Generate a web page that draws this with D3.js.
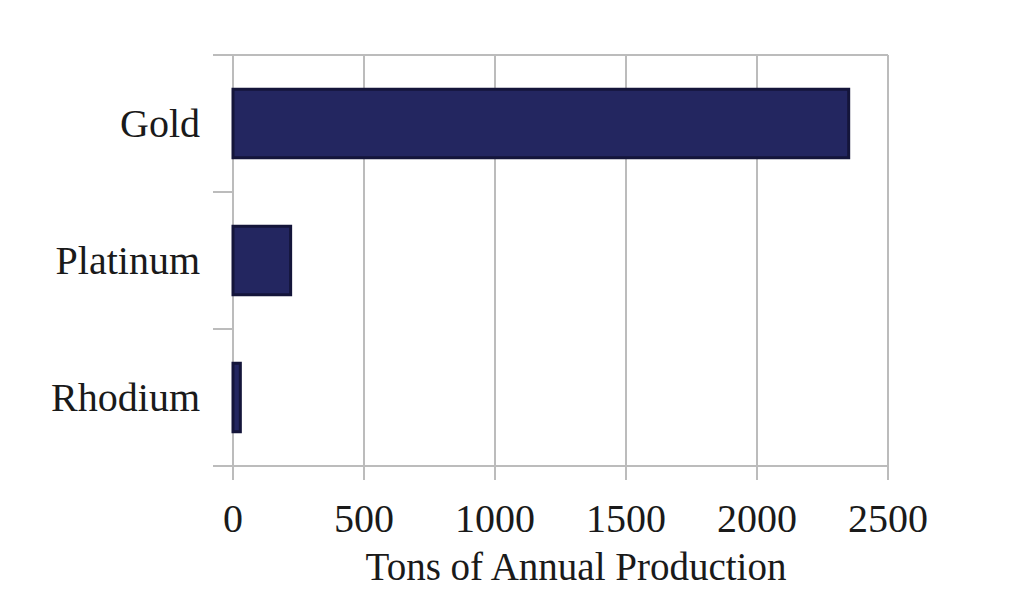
<!DOCTYPE html>
<html>
<head>
<meta charset="utf-8">
<script src="https://cdn.jsdelivr.net/npm/d3@7"></script>
<style>
  body { margin: 0; background: #fff; }
  text { font-family: "Liberation Serif", "DejaVu Serif", serif; fill: #1a1a1a; }
</style>
</head>
<body>
<script>
var metals = ["Gold", "Platinum", "Rhodium"];
var tons = [2350, 220, 28];
var xTicks = [0, 500, 1000, 1500, 2000, 2500];
var xTitle = "Tons of Annual Production";

var width = 1024, height = 605;
var plotLeft = 233, plotRight = 888, plotTop = 55, plotBottom = 466;
var gridColor = "#bcbcbc";

var svg = d3.select("body").append("svg")
  .attr("width", width)
  .attr("height", height);

var x = d3.scaleLinear().domain([0, 2500]).range([plotLeft, plotRight]);
var y = d3.scaleBand().domain(metals).range([plotTop, plotBottom])
  .paddingInner(0.5).paddingOuter(0.25);

// vertical grid lines, running past the bottom as ticks
svg.append("g").selectAll("line")
  .data(xTicks)
  .join("line")
    .attr("x1", d => x(d)).attr("x2", d => x(d))
    .attr("y1", plotTop).attr("y2", plotBottom + 14)
    .attr("stroke", gridColor)
    .attr("stroke-width", 2);

// category boundaries on the left (top and bottom ones span the plot)
var bounds = d3.range(metals.length + 1).map(i => plotTop + i * y.step());
svg.append("g").selectAll("line")
  .data(bounds)
  .join("line")
    .attr("x1", plotLeft - 20)
    .attr("x2", (d, i) => (i === 0 || i === metals.length) ? plotRight : plotLeft)
    .attr("y1", d => d).attr("y2", d => d)
    .attr("stroke", gridColor)
    .attr("stroke-width", 2);

// bars
svg.append("g").selectAll("rect")
  .data(metals)
  .join("rect")
    .attr("x", x(0))
    .attr("y", d => y(d))
    .attr("width", (d, i) => x(tons[i]) - x(0))
    .attr("height", y.bandwidth())
    .attr("fill", "#232660")
    .attr("stroke", "#14153a")
    .attr("stroke-width", 3);

// category labels
svg.append("g").selectAll("text")
  .data(metals)
  .join("text")
    .attr("x", plotLeft - 33)
    .attr("y", d => y(d) + y.bandwidth() / 2)
    .attr("dy", "0.33em")
    .attr("text-anchor", "end")
    .style("font-size", "40px")
    .text(d => d);

// tick labels
svg.append("g").selectAll("text")
  .data(xTicks)
  .join("text")
    .attr("x", d => x(d))
    .attr("y", 532)
    .attr("text-anchor", "middle")
    .style("font-size", "40px")
    .text(d => d);

svg.append("text")
  .attr("x", 576)
  .attr("y", 580)
  .attr("text-anchor", "middle")
  .style("font-size", "39px")
  .text(xTitle);
</script>
</body>
</html>
